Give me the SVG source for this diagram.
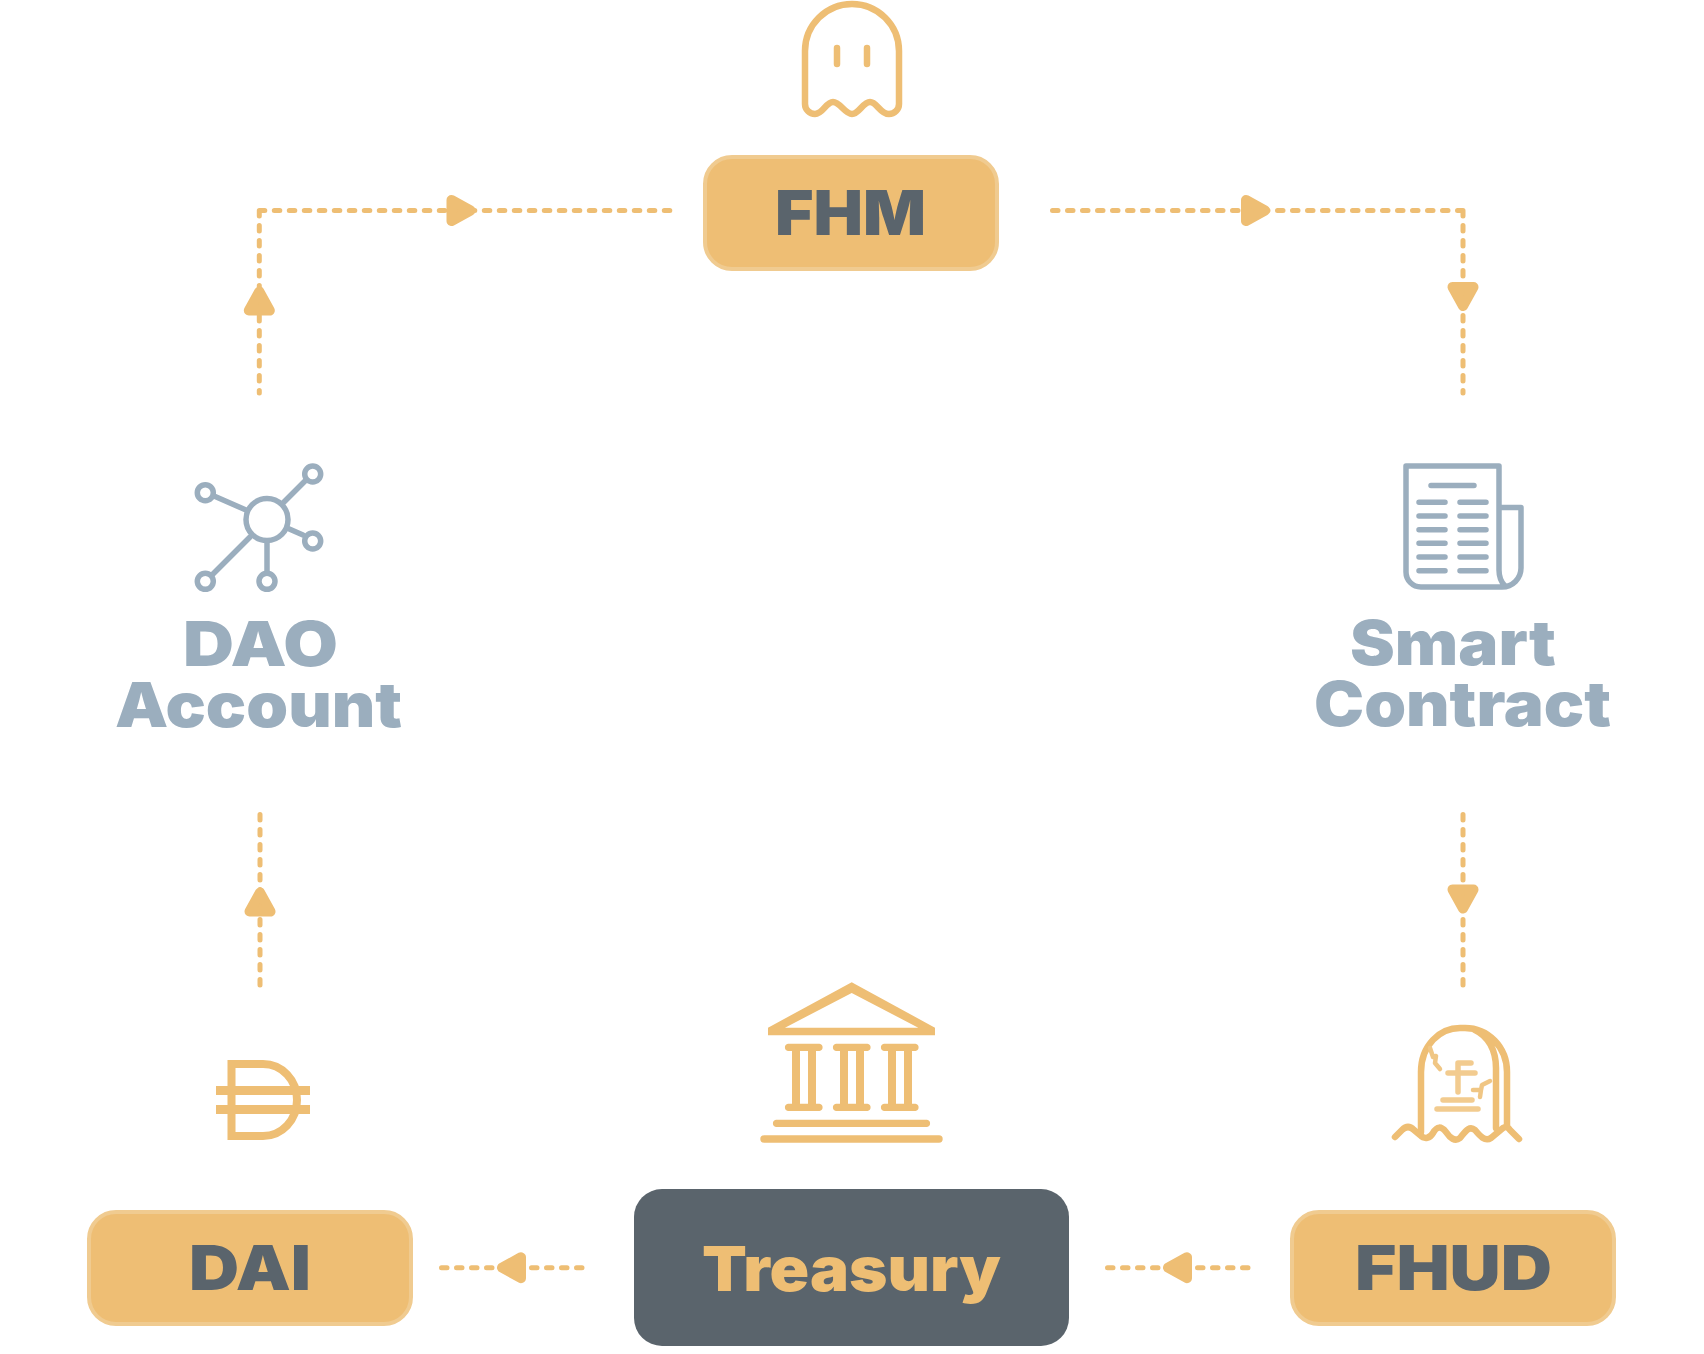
<svg xmlns="http://www.w3.org/2000/svg" width="1704" height="1354" viewBox="0 0 1704 1354">
<style>
.t{font-family:"Inter","DejaVu Sans","Liberation Sans",sans-serif;font-weight:900;font-size:62px}
.box{fill:#EEBE74;stroke:#F0CB90;stroke-width:4}
.ic{fill:none;stroke:#EEBE74;stroke-width:6.500;stroke-linecap:round;stroke-linejoin:round}
.bl{fill:none;stroke:#9BAEBE;stroke-width:5.500;stroke-linecap:round;stroke-linejoin:round}
.y{fill:#EEBE74}
.g{fill:#5A646C}
.b{fill:#9BAEBE}
.dash{fill:none;stroke:#EEBE74;stroke-width:5;stroke-dasharray:5.500 9.500;stroke-linecap:round}
.ah{fill:#EEBE74;stroke:#EEBE74;stroke-width:10;stroke-linejoin:round}
</style>
<defs>
<path id="ah" class="ah" d="M-9.500-10.500L9.500 0L-9.500 10.500Z"/>
</defs>
<rect width="1704" height="1354" fill="#fff"/>
<g id="connectors">
<path class="dash" d="M259.300 210.500H671M259.300 210.500V393"/>
<path class="dash" d="M1463 210.500H1050M1463 210.500V393"/>
<path class="dash" d="M260 814.500V987"/>
<path class="dash" d="M1463 814.500V987"/>
<path class="dash" d="M441.500 1267.700H584"/>
<path class="dash" d="M1107.500 1267.700H1250"/>
<use href="#ah" transform="translate(461 210.500)"/>
<use href="#ah" transform="translate(1255.500 210.500)"/>
<use href="#ah" transform="translate(259.300 301) rotate(-90)"/>
<use href="#ah" transform="translate(1463 296.500) rotate(90)"/>
<use href="#ah" transform="translate(260 902) rotate(-90)"/>
<use href="#ah" transform="translate(1463 899) rotate(90)"/>
<use href="#ah" transform="translate(511.500 1267.700) rotate(180)"/>
<use href="#ah" transform="translate(1177.500 1267.700) rotate(180)"/>
</g>
<g id="fhm">
<path class="ic" d="M805 51a47 47 0 0 1 94 0V104a10 10 0 0 1-10 10C880 114 877 102 870 102C863 102 859 114 852 114C845 114 840 102 833 102C826 102 823 114 815 114a10 10 0 0 1-10-10Z"/>
<path class="ic" d="M837 48V64M867 48V64"/>
<rect class="box" x="705" y="157" width="292" height="112" rx="27"/>
<text class="t g" x="775" y="235" textLength="151" lengthAdjust="spacingAndGlyphs">FHM</text>
</g>
<g id="dao-account">
<circle class="bl" cx="267" cy="519.500" r="21"/>
<circle class="bl" cx="312.700" cy="474" r="8"/>
<circle class="bl" cx="205.300" cy="492.700" r="8"/>
<circle class="bl" cx="312.700" cy="541" r="8"/>
<circle class="bl" cx="205.300" cy="581.300" r="8"/>
<circle class="bl" cx="267" cy="581.300" r="8"/>
<path class="bl" d="M283 503L306 480M214 496L246 510M287 528L303 535M250 537L212 575M267 542V571" stroke-linecap="butt"/>
<text class="t b" x="183" y="666" textLength="155" lengthAdjust="spacingAndGlyphs">DAO</text>
<text class="t b" x="115" y="727" textLength="287" lengthAdjust="spacingAndGlyphs">Account</text>
</g>
<g id="smart-contract">
<path class="bl" d="M1499 507.500H1521V568a19 19 0 0 1-19 19H1421a15 15 0 0 1-15-15V466H1499V570Q1499 580 1505 586"/>
<path class="bl" d="M1431 485.500H1474M1419 502.300H1445M1460 502.300H1486M1419 516H1445M1460 516H1486M1419 529.700H1445M1460 529.700H1486M1419 543.300H1445M1460 543.300H1486M1419 557H1445M1460 557H1486M1419 570.700H1445M1460 570.700H1486"/>
<text class="t b" x="1350" y="665" textLength="206" lengthAdjust="spacingAndGlyphs">Smart</text>
<text class="t b" x="1314" y="726" textLength="297" lengthAdjust="spacingAndGlyphs">Contract</text>
</g>
<g id="treasury">
<path class="y" fill-rule="evenodd" d="M851.700 982.300L935 1027.700V1035.300H768V1027.700ZM851.700 993L785 1027.700H918.300Z"/>
<path class="y" d="M776 1119.700H927a3.700 3.700 0 0 1 0 7.300H776a3.700 3.700 0 0 1 0-7.300ZM764 1135.300H939a3.700 3.700 0 0 1 0 7.400H764a3.700 3.700 0 0 1 0-7.400Z"/>
<g id="columns">
<path class="y" d="M788 1043.700H819.500a3.700 3.700 0 0 1 0 7.300H816V1103.700H819.500a3.700 3.700 0 0 1 0 7.300H788a3.700 3.700 0 0 1 0-7.300H792V1051H788a3.700 3.700 0 0 1 0-7.300ZM800 1051V1103.700H808V1051Z" fill-rule="evenodd"/>
<path class="y" d="M836 1043.700H867.500a3.700 3.700 0 0 1 0 7.300H864V1103.700H867.500a3.700 3.700 0 0 1 0 7.300H836a3.700 3.700 0 0 1 0-7.300H840V1051H836a3.700 3.700 0 0 1 0-7.300ZM848 1051V1103.700H856V1051Z" fill-rule="evenodd"/>
<path class="y" d="M884 1043.700H915.500a3.700 3.700 0 0 1 0 7.300H912V1103.700H915.500a3.700 3.700 0 0 1 0 7.300H884a3.700 3.700 0 0 1 0-7.300H888V1051H884a3.700 3.700 0 0 1 0-7.300ZM896 1051V1103.700H904V1051Z" fill-rule="evenodd"/>
</g>
<rect class="g" x="634" y="1189" width="435" height="157" rx="28"/>
<text class="t y" x="702" y="1291" textLength="299" lengthAdjust="spacingAndGlyphs">Treasury</text>
</g>
<g id="dai">
<path fill="none" stroke="#EEBE74" stroke-width="8" d="M231.500 1064H263C282 1064 297 1080 297 1100C297 1120 282 1136 263 1136H231.500Z"/>
<path class="y" d="M216 1086H310V1095H216ZM216 1105H310V1114H216Z"/>
<rect class="box" x="89" y="1212" width="322" height="112" rx="27"/>
<text class="t g" x="189" y="1290" textLength="122" lengthAdjust="spacingAndGlyphs">DAI</text>
</g>
<g id="fhud">
<path class="ic" d="M1421 1132V1072C1421 1045 1440 1028 1460 1028H1465C1488 1028 1507 1047 1507 1072V1127M1475 1030C1488 1036 1496 1050 1496 1068V1128"/>
<path class="ic" d="M1395 1137L1402 1130C1406 1126 1410 1126 1414 1130L1420 1135C1425 1140 1430 1138 1433 1133C1437 1126 1441 1126 1446 1132C1450 1138 1455 1142 1460 1138C1465 1132 1469 1125 1475 1130C1480 1136 1485 1142 1491 1138L1503 1128C1506 1126 1508 1127 1510 1130L1519 1139"/>
<path class="ic" style="stroke-width:4.500;stroke:#F0C684" d="M1430 1048L1433 1057L1436 1056L1435 1063L1440 1069M1490 1081L1482 1085L1481 1090L1473 1090M1481 1090L1480 1097"/>
<path class="ic" style="stroke-width:5.500;stroke:#F2CB8F" d="M1458 1092V1063H1471M1448 1073H1475M1443 1100H1472M1437 1109H1478"/>
<rect class="box" x="1292" y="1212" width="322" height="112" rx="27"/>
<text class="t g" x="1355" y="1290" textLength="197" lengthAdjust="spacingAndGlyphs">FHUD</text>
</g>
</svg>
